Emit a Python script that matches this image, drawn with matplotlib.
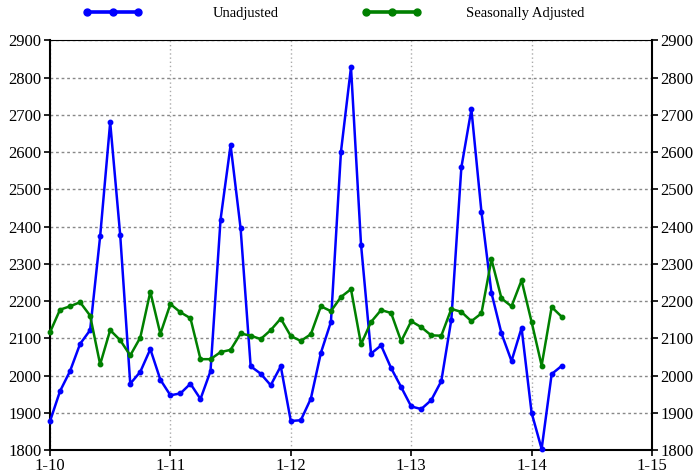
import numpy as np
import matplotlib
matplotlib.use('Agg')
from matplotlib import pyplot as plt

plt.rcParams['font.family'] = ['Liberation Serif', 'DejaVu Serif']

# monthly values, Jan 2010 .. Apr 2014
unadjusted = [1877, 1958, 2012, 2085, 2122, 2374, 2680, 2377, 1978, 2010, 2071, 1989,
              1947, 1952, 1978, 1937, 2012, 2419, 2619, 2395, 2025, 2005, 1974, 2025,
              1878, 1880, 1938, 2061, 2144, 2601, 2828, 2352, 2059, 2081, 2020, 1969,
              1917, 1910, 1934, 1985, 2150, 2559, 2715, 2440, 2222, 2113, 2039, 2128,
              1900, 1803, 2004, 2026]
adjusted = [2116, 2177, 2186, 2197, 2161, 2030, 2122, 2095, 2054, 2102, 2225, 2112,
            2192, 2170, 2154, 2044, 2044, 2063, 2069, 2113, 2107, 2098, 2122, 2153,
            2106, 2093, 2111, 2186, 2173, 2211, 2232, 2084, 2144, 2176, 2168, 2092,
            2146, 2130, 2108, 2107, 2179, 2171, 2146, 2167, 2312, 2207, 2186, 2256,
            2144, 2027, 2184, 2158]
tick_labels = ['1-10', '1-11', '1-12', '1-13', '1-14', '1-15']
months = np.arange(len(unadjusted))

fig = plt.figure(figsize=(6.98, 4.74), dpi=100)
ax = fig.add_axes([0.0716, 0.0506, 0.8625, 0.864])

l1, = ax.plot(months, unadjusted, color='#0000ff', lw=1.8, marker='o', ms=3.2,
              label='Unadjusted', clip_on=False, zorder=3)
l2, = ax.plot(months, adjusted, color='#008000', lw=1.8, marker='o', ms=3.2,
              label='Seasonally Adjusted', clip_on=False, zorder=3)

ax.set_xlim(0, 60)
ax.set_ylim(1800, 2900)
yt = np.arange(1800, 2901, 100)
ax.set_yticks(yt)
ax.set_xticks(np.arange(0, 61, 12))
ax.set_xticklabels(tick_labels)

ax.yaxis.grid(True, linestyle=(0, (2, 2)), color='#888888', lw=1.0)
ax.xaxis.grid(True, linestyle=(0, (1, 2)), color='#aaaaaa', lw=1.0)
ax.set_axisbelow(True)

for s in ['left', 'right', 'bottom']:
    ax.spines[s].set_linewidth(1.5)
ax.spines['top'].set_linewidth(0.8)
ax.tick_params(axis='both', labelsize=12, length=4, width=1.2, direction='out', pad=2)

ax2 = ax.twinx()
ax2.set_ylim(1800, 2900)
ax2.set_yticks(yt)
ax2.tick_params(axis='y', labelsize=12, length=4, width=1.2, direction='out', pad=2)
for s in ax2.spines.values():
    s.set_visible(False)

# legend above the plot, one entry each
leg1 = fig.legend([l1], ['Unadjusted'], loc='center left', bbox_to_anchor=(83 / 698, 461 / 474),
                  frameon=False, numpoints=3, handlelength=4.1, handletextpad=4.8,
                  fontsize=10.5, borderpad=0, borderaxespad=0)
leg2 = fig.legend([l2], ['Seasonally Adjusted'], loc='center left',
                  bbox_to_anchor=(362 / 698, 461 / 474),
                  frameon=False, numpoints=3, handlelength=4.1, handletextpad=3.0,
                  fontsize=10.5, borderpad=0, borderaxespad=0)
for lg in (leg1, leg2):
    for h in lg.legend_handles:
        h.set_linewidth(2.6)
        h.set_markersize(5)

fig.savefig('out.png', dpi=100)
